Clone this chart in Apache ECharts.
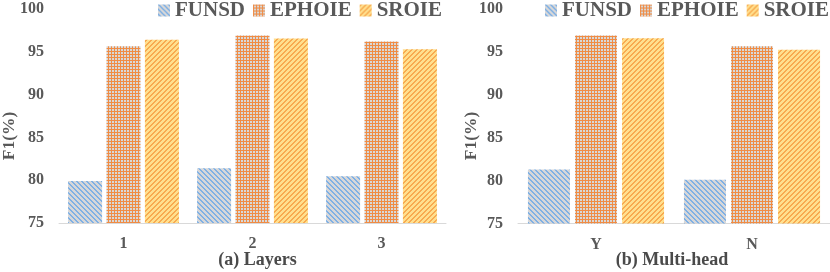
<!DOCTYPE html>
<html>
<head>
<meta charset="utf-8">
<script src="https://cdn.jsdelivr.net/npm/echarts@6/dist/echarts.min.js"></script>
<style>html,body{margin:0;padding:0;background:#fff}#c{width:830px;height:272px}</style>
</head>
<body>
<div id="c"></div>
<script>
// ---- data ----
const categoriesA = ['1', '2', '3'];
const categoriesB = ['Y', 'N'];
const seriesNames = ['FUNSD', 'EPHOIE', 'SROIE'];
const funsdA  = [79.9, 81.4, 80.45];
const ephoieA = [95.65, 96.9, 96.2];
const sroieA  = [96.4, 96.55, 95.3];
const funsdB  = [81.3, 80.1];
const ephoieB = [96.9, 95.65];
const sroieB  = [96.6, 95.25];
const yMin = 75, yMax = 100, yStep = 5;
const titleA = '(a) Layers';
const titleB = '(b) Multi-head';
const yName = 'F1(%)';

// ---- patterns ----
function pattern(size, bg, fg, fn) {
  const c = document.createElement('canvas');
  c.width = c.height = size;
  const ctx = c.getContext('2d');
  ctx.fillStyle = bg; ctx.fillRect(0, 0, size, size);
  ctx.fillStyle = fg;
  for (let y = 0; y < size; y++) for (let x = 0; x < size; x++) if (fn(x, y)) ctx.fillRect(x, y, 1, 1);
  return { image: c, repeat: 'repeat' };
}
const pFUNSD = pattern(5, '#d6d7d9', '#7fb0e4', (x, y) => ((x - y + 5) % 5) < 2);
const pEPHOIE = pattern(6, '#d8d8d8', '#f08c45', (x, y) => (x % 3 === 0) || (y % 3 === 0));
const pSROIE = pattern(5, '#ffe08e', '#f8aa50', (x, y) => ((x + y) % 5) < 2);
const patterns = [pFUNSD, pEPHOIE, pSROIE];

const font = '"Liberation Serif", "Times New Roman", serif';
const labelColor = '#595959';

function yAxis(gi) {
  return {
    type: 'value', gridIndex: gi, min: yMin, max: yMax, interval: yStep,
    axisLine: { show: false }, axisTick: { show: false }, splitLine: { show: false },
    axisLabel: { color: labelColor, fontFamily: font, fontWeight: 'bold', fontSize: 16, margin: 15 }
  };
}
function xAxis(gi, cats) {
  return {
    type: 'category', gridIndex: gi, data: cats,
    axisLine: { show: true, lineStyle: { color: '#d9d9d9', width: 1 } },
    axisTick: { show: false },
    axisLabel: { color: labelColor, fontFamily: font, fontWeight: 'bold', fontSize: 16, margin: 13 }
  };
}
function legend(left) {
  return {
    left: left, top: 0, padding: 0, itemWidth: 12, itemHeight: 12, itemGap: 8,
    icon: 'rect', data: seriesNames,
    textStyle: { color: labelColor, fontFamily: font, fontWeight: 'bold', fontSize: 21, lineHeight: 20 }
  };
}
function bars(gi, arrs, width, gap) {
  return arrs.map((d, i) => ({
    type: 'bar', name: seriesNames[i], xAxisIndex: gi, yAxisIndex: gi, data: d,
    barWidth: width, barGap: gap,
    itemStyle: { color: patterns[i] }
  }));
}

const chart = echarts.init(document.getElementById('c'), null, { renderer: 'canvas' });
chart.setOption({
  animation: false,
  backgroundColor: '#fff',
  grid: [
    { left: 59, top: 9, width: 387, height: 214 },
    { left: 518, top: 9, width: 318, height: 214.5 }
  ],
  legend: [legend(158), legend(545)],
  xAxis: [xAxis(0, categoriesA), xAxis(1, categoriesB)],
  yAxis: [yAxis(0), yAxis(1)],
  series: [].concat(bars(0, [funsdA, ephoieA, sroieA], 34, '13%'), bars(1, [funsdB, ephoieB, sroieB], 42, '12%')),
  graphic: [
    { type: 'text', x: 9, y: 136, rotation: Math.PI / 2,
      style: { text: yName, textAlign: 'center', textVerticalAlign: 'middle', fill: labelColor, font: 'bold 17.5px ' + font } },
    { type: 'text', x: 471, y: 136, rotation: Math.PI / 2,
      style: { text: yName, textAlign: 'center', textVerticalAlign: 'middle', fill: labelColor, font: 'bold 17.5px ' + font } },
    { type: 'text', x: 257.5, y: 260,
      style: { text: titleA, textAlign: 'center', textVerticalAlign: 'middle', fill: '#4a4a4a', font: 'bold 18px ' + font } },
    { type: 'text', x: 672, y: 260,
      style: { text: titleB, textAlign: 'center', textVerticalAlign: 'middle', fill: '#4a4a4a', font: 'bold 18px ' + font } }
  ]
});
</script>
</body>
</html>
